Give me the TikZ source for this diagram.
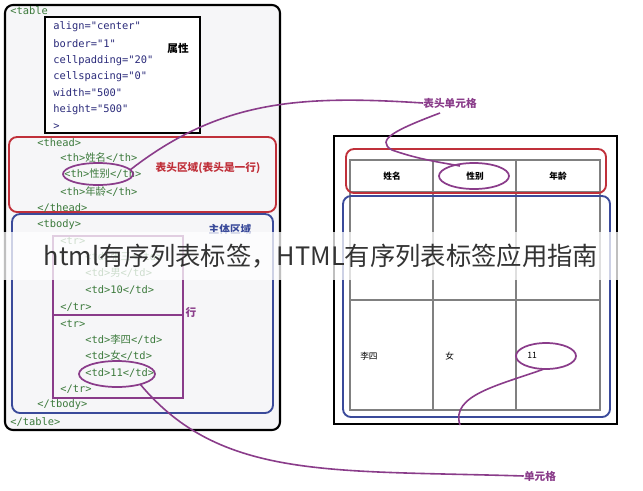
\documentclass[tikz,border=0pt]{standalone}
\usepackage{fontspec}
\setmonofont{DejaVu Sans Mono}
\newfontfamily\cjk{Noto Sans CJK SC}
\usetikzlibrary{shapes.geometric}
\definecolor{tagg}{HTML}{3C7A3C}
\definecolor{attr}{HTML}{2A2A7A}
\definecolor{redc}{HTML}{C0303A}
\definecolor{bluec}{HTML}{3A4A9A}
\definecolor{purp}{HTML}{8A3C8A}
\definecolor{bgc}{HTML}{F6F6F8}
\tikzset{
 code/.style={anchor=west,inner sep=0pt,font=\ttfamily\fontsize{7.8}{8}\selectfont,text=tagg},
 attrt/.style={code,text=attr},
 lbl/.style={inner sep=0pt,font=\cjk\bfseries\fontsize{8}{9}\selectfont},
 cell/.style={inner sep=0pt,font=\cjk\fontsize{6.5}{7}\selectfont},
 ell/.style={draw=purp,line width=1.3pt},
 link/.style={draw=purp,line width=1.2pt},
}
\begin{document}
\begin{tikzpicture}[x=0.75pt,y=-0.75pt]
\useasboundingbox (0,0) rectangle (643,490);
\fill[white] (0,0) rectangle (643,490);
% left
\draw[line width=1.6pt,rounded corners=6pt,fill=bgc] (5,5) rectangle (280,430);
\draw[line width=1.4pt,fill=white] (45,17) rectangle (200,133);
\node[code] (t0) at (10,11) {<table};
\foreach \t/\y in {align="center"/27,border="1"/44,cellpadding="20"/61,cellspacing="0"/77,width="500"/93,height="500"/110,>/127}
  \node[attrt] at (53,\y) {\t};
\node[lbl] (shux) at (178,48) {属性};
\draw[redc,line width=1.4pt,rounded corners=6pt] (9,137) rectangle (276,212);
\node[code] (th0) at (37,143) {<thead>};
\node[code] (th1) at (60,158) {<th>{\cjk 姓名}</th>};
\node[code] (th2) at (64,174) {<th>{\cjk 性别}</th>};
\node[code] (th3) at (60,192) {<th>{\cjk 年龄}</th>};
\node[code] (th4) at (37,208) {</thead>};
\node[lbl,text=redc] (thl) at (208,168) {表头区域(表头是一行)};
\draw[ell] (98,174) ellipse (35 and 11);
\draw[bluec,line width=1.4pt,rounded corners=6pt] (12,214) rectangle (273,413);
\node[code] at (37,225) {<tbody>};
\node[lbl,text=bluec] (tbl) at (230,229) {主体区域};
\draw[purp,line width=1.2pt] (53,236) rectangle (183,315);
\draw[purp,line width=1.2pt] (53,315) rectangle (183,398);
\node[lbl,text=purp] (hang) at (191,312) {行};
\node[code] at (60,241) {<tr>};
\node[code] at (85,257) {<td>{\cjk 张三}</td>};
\node[code] at (85,273) {<td>{\cjk 男}</td>};
\node[code] at (85,290) {<td>10</td>};
\node[code] at (60,307) {</tr>};
\node[code] at (60,324) {<tr>};
\node[code] at (85,340) {<td>{\cjk 李四}</td>};
\node[code] at (85,356) {<td>{\cjk 女}</td>};
\node[code] (td11) at (85,373) {<td>11</td>};
\node[code] at (60,389) {</tr>};
\node[code] at (37,405) {</tbody>};
\node[code] at (10,422) {</table>};
\draw[ell] (117,374) ellipse (38 and 13);
\coordinate (e2) at (140,384);
% right
\draw[line width=1.5pt] (334,136) rectangle (617,424);
\draw[gray,line width=0.8pt] (350,160) rectangle (600,410);
\foreach \x in {433,516} \draw[gray,line width=0.8pt] (\x,160) -- (\x,410);
\foreach \y in {192,300} \draw[gray,line width=0.8pt] (350,\y) -- (600,\y);
\draw[redc,line width=1.4pt,rounded corners=6pt] (346,149) rectangle (606,193);
\draw[bluec,line width=1.4pt,rounded corners=6pt] (343,196) rectangle (610,417);
\node[cell,font=\cjk\bfseries\fontsize{6.5}{7}\selectfont] at (392,176) {姓名};
\node[cell,font=\cjk\bfseries\fontsize{6.5}{7}\selectfont] at (475,176) {性别};
\node[cell,font=\cjk\bfseries\fontsize{6.5}{7}\selectfont] at (558,176) {年龄};
\node[cell,anchor=west] at (360,356) {李四};
\node[cell,anchor=west] at (445,356) {女};
\node[cell,anchor=west] at (527,355) {11};
\draw[ell] (474,176) ellipse (35 and 13);
\draw[ell] (546,356) ellipse (30 and 13);
\node[lbl,text=purp] (l1) at (450,103) {表头单元格};
\node[lbl,text=purp] (l2) at (540,476) {单元格};
% connectors
\draw[link] (130,170) .. controls (220,100) and (300,95) .. (l1.west);
\draw[link] (440,113) .. controls (395,130) and (375,140) .. (392,150) .. controls (420,160) and (445,163) .. (460,166);
\draw[link] (e2) .. controls (220,480) and (330,470) .. (l2.west);
\draw[link] (544,369) .. controls (500,385) and (450,395) .. (460,425);
% watermark
\fill[white,opacity=0.75] (0,232) rectangle (643,280);
\node[inner sep=0pt,font=\cjk\fontsize{19}{22}\selectfont,text=black!80] (wm) at (321,256) {html有序列表标签，HTML有序列表标签应用指南};
\end{tikzpicture}
\end{document}
